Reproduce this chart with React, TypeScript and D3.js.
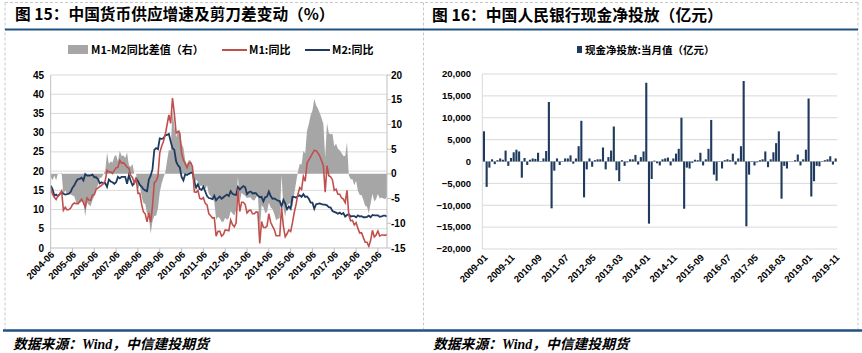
import * as d3 from 'd3';
import React from 'react';

// M1 / M2 同比 (%), monthly 2004-06 .. 2019-11
const m1 = [
  15.6, 14.0, 13.2, 12.6, 13.6, 14.0, 14.8,
  9.8, 10.6, 9.9, 10.0, 10.4, 11.3, 11.7, 11.5, 11.6, 12.1, 12.7, 11.8,
  10.6, 13.0, 12.5, 12.4, 13.8, 13.9, 15.3, 15.6, 16.0, 16.3, 16.8, 17.5,
  20.2, 19.8, 19.8, 19.4, 20.2, 20.9, 21.0, 22.8, 22.1, 22.2, 21.7, 21.0,
  20.7, 18.9, 18.3, 16.9, 18.1, 14.2, 14.2, 11.4, 9.4, 8.9, 6.8, 9.1,
  6.7, 10.9, 17.0, 17.5, 18.7, 24.8, 26.4, 27.7, 29.5, 32.0, 34.6, 32.4,
  39.0, 35.0, 29.9, 30.3, 29.9, 24.6, 22.9, 21.9, 20.9, 22.1, 22.2, 21.2,
  14.6, 14.5, 15.0, 12.9, 12.7, 13.1, 11.6, 11.2, 8.9, 8.4, 7.8, 7.9,
  3.1, 4.3, 4.4, 3.1, 3.5, 4.7, 4.6, 4.5, 7.3, 6.1, 5.5, 6.5,
  15.3, 9.5, 11.9, 11.9, 11.3, 9.1, 9.7, 9.9, 8.9, 8.9, 9.4, 9.3,
  1.2, 6.9, 5.4, 5.3, 5.7, 8.9, 6.7, 5.7, 4.8, 3.2, 3.2, 3.2,
  10.6, 5.6, 2.9, 3.7, 4.7, 4.3, 6.6, 9.3, 11.4, 14.0, 15.7, 15.2,
  18.6, 17.4, 22.1, 22.9, 23.7, 24.6, 25.4, 25.3, 24.7, 23.9, 22.7, 21.4,
  14.5, 21.4, 18.8, 18.5, 17.7, 15.0, 15.3, 14.0, 14.0, 13.0, 12.7, 11.8,
  15.0, 8.5, 7.1, 7.2, 6.0, 6.6, 5.1, 3.9, 4.0, 2.7, 1.5, 1.5,
  0.4, 2.0, 4.6, 2.9, 3.4, 4.4, 3.1, 3.4, 3.4, 3.3, 3.5,
];

const m2 = [
  16.2, 15.3, 13.6, 13.9, 13.5, 14.0, 14.6,
  14.1, 13.9, 14.0, 14.1, 14.6, 15.7, 16.3, 17.3, 17.9, 18.0, 18.3, 17.6,
  19.2, 18.8, 18.8, 18.9, 19.1, 18.4, 18.4, 17.9, 16.8, 17.1, 16.8, 16.9,
  15.9, 17.8, 17.3, 17.1, 16.7, 17.1, 18.5, 18.1, 18.5, 18.5, 18.5, 16.7,
  18.9, 17.5, 16.3, 16.9, 18.1, 17.4, 16.4, 16.0, 15.3, 15.0, 14.8, 17.8,
  18.8, 20.5, 25.5, 26.0, 25.7, 28.5, 28.4, 28.5, 29.3, 29.4, 29.7, 27.7,
  26.0, 25.5, 22.5, 21.5, 21.0, 18.5, 17.6, 19.2, 19.0, 19.3, 19.5, 19.7,
  17.2, 15.7, 16.6, 15.3, 15.1, 15.9, 14.7, 13.5, 13.0, 12.9, 12.7, 13.6,
  12.4, 13.0, 13.4, 12.8, 13.2, 13.6, 13.9, 13.5, 14.8, 14.1, 13.9, 13.8,
  15.9, 15.2, 15.7, 16.1, 15.8, 14.0, 14.5, 14.7, 14.2, 14.3, 14.2, 13.6,
  13.2, 13.3, 12.1, 13.2, 13.4, 14.7, 13.5, 12.8, 12.9, 12.6, 12.3, 12.2,
  10.8, 12.5, 11.6, 10.1, 10.8, 10.2, 13.3, 13.3, 13.1, 13.5, 13.7, 13.3,
  14.0, 13.3, 13.4, 12.8, 11.8, 11.8, 10.2, 11.4, 11.5, 11.6, 11.4, 11.3,
  11.3, 11.1, 10.6, 10.5, 9.6, 9.4, 9.2, 8.9, 9.2, 8.8, 9.1, 8.2,
  8.6, 8.8, 8.2, 8.3, 8.3, 8.0, 8.5, 8.2, 8.3, 8.0, 8.0, 8.1,
  8.4, 8.0, 8.6, 8.5, 8.5, 8.5, 8.1, 8.2, 8.4, 8.4, 8.2,
];

// M1-M2 同比差值（右）
const gap = m1.map((v, i) => v - m2[i]);

const yearLabels = [
  '2004-06', '2005-06', '2006-06', '2007-06', '2008-06', '2009-06', '2010-06', '2011-06',
  '2012-06', '2013-06', '2014-06', '2015-06', '2016-06', '2017-06', '2018-06', '2019-06',
];

// 现金净投放:当月值（亿元）, monthly 2009-01 .. 2019-11
const cash = [
  6900, -5800, -1400, 500, -600, 300, 700, 400, 2500, -1000, 800, 2100,
  2700, 2300, -3700, 800, -800, 400, 700, 600, 2000, -100, 700, 2400,
  13600, -10700, -2100, 700, -800, -100, 700, 700, 1400, -500, 700, 3500,
  9300, -8200, -1800, 700, -1200, 300, 500, 500, 3200, -1800, 1000, 2500,
  8000, -2000, -4500, 300, -1000, -200, 500, 500, 1500, -700, 1000, 2300,
  18000, -14200, -4000, 200, -400, -900, 500, 700, 900, -900, 700, 1800,
  2900, 10000, -10800, -1400, -1600, -300, 400, 300, 2000, -900, 500, 2900,
  9500, -3000, -4400, -100, -1600, 300, 500, 300, 1800, -700, 700, 3500,
  18400, -14800, -3000, -100, -900, -200, 300, 500, 2300, -1300, 500, 2100,
  4200, 6900, -8500, -1000, -1600, -50, 50, 300, 1600, -900, 500, 2700,
  14400, -8000, -4500, -1000, -1100, -100, 300, 500, 1200, -700, 700,
];

const cashLabels = [
  '2009-01', '2009-11', '2010-09', '2011-07', '2012-05', '2013-03', '2014-01',
  '2014-11', '2015-09', '2016-07', '2017-05', '2018-03', '2019-01', '2019-11',
];

const leftTicks = [0, 5, 10, 15, 20, 25, 30, 35, 40, 45];
const rightTicks = [-15, -10, -5, 0, 5, 10, 15, 20];
const cashTicks = [-20000, -15000, -10000, -5000, 0, 5000, 10000, 15000, 20000];

const RED = '#C0504D';
const NAVY = '#1F3A5F';
const GRAY = '#A6A6A6';
const GRID = '#D9D9D9';
const BLUE = '#1F5282';
const axisFont = '"Liberation Sans", Arial, sans-serif';
const cjkFont = '"Noto Sans CJK SC", "Liberation Sans", sans-serif';
const footFont = '"Liberation Serif", "Noto Sans CJK SC", serif';

function LeftChart() {
  const n = m1.length;
  const x = d3.scaleLinear().domain([0, n - 1]).range([50.7, 387]);
  const yL = d3.scaleLinear().domain([0, 45]).range([248, 75]);
  const yR = d3.scaleLinear().domain([-15, 20]).range([248, 75]);

  const area = d3.area<number>()
    .x((d, i) => x(i))
    .y0(yR(0))
    .y1(d => yR(d));
  const line = d3.line<number>()
    .x((d, i) => x(i))
    .y(d => yL(d));

  return (
    <g>
      {leftTicks.slice(1).map(t => (
        <line key={t} x1={x(0)} x2={x(n - 1)} y1={yL(t)} y2={yL(t)} stroke={GRID} strokeWidth={1} />
      ))}
      <path d={area(gap) || ''} fill={GRAY} />
      <path d={line(m2) || ''} fill="none" stroke={NAVY} strokeWidth={1.8} />
      <path d={line(m1) || ''} fill="none" stroke={RED} strokeWidth={1.6} />

      <line x1={x(0)} x2={x(0)} y1={75} y2={248} stroke="#BFBFBF" />
      <line x1={x(n - 1)} x2={x(n - 1)} y1={75} y2={248} stroke="#BFBFBF" />
      <line x1={x(0)} x2={x(n - 1)} y1={248} y2={248} stroke="#BFBFBF" />

      {leftTicks.map(t => (
        <text key={t} x={44} y={yL(t)} dy="0.35em" textAnchor="end"
          fontSize={10} fontWeight="bold" fontFamily={axisFont}>{t}</text>
      ))}
      {rightTicks.map(t => (
        <g key={t}>
          <line x1={x(n - 1)} x2={x(n - 1) + 4} y1={yR(t)} y2={yR(t)} stroke="#BFBFBF" />
          <text x={391} y={yR(t)} dy="0.35em" fontSize={10} fontWeight="bold" fontFamily={axisFont}>{t}</text>
        </g>
      ))}
      {yearLabels.map((lab, k) => {
        const xx = x(k * 12);
        return (
          <g key={lab}>
            <line x1={xx} x2={xx} y1={248} y2={252} stroke="#BFBFBF" />
            <text transform={`translate(${xx + 2},${253}) rotate(-45)`} textAnchor="end" dy="0.35em"
              fontSize={9.5} fontWeight="bold" fontFamily={axisFont}>{lab}</text>
          </g>
        );
      })}

      {/* legend */}
      <rect x={68} y={45} width={20} height={9} fill={GRAY} />
      <text x={91} y={50} dy="0.35em" fontSize={11} fontWeight="bold" fontFamily={cjkFont}>M1-M2同比差值（右）</text>
      <line x1={222} x2={247} y1={50} y2={50} stroke={RED} strokeWidth={2} />
      <text x={249} y={50} dy="0.35em" fontSize={11} fontWeight="bold" fontFamily={cjkFont}>M1:同比</text>
      <line x1={305} x2={330} y1={50} y2={50} stroke={NAVY} strokeWidth={2} />
      <text x={332} y={50} dy="0.35em" fontSize={11} fontWeight="bold" fontFamily={cjkFont}>M2:同比</text>
    </g>
  );
}

function RightChart() {
  const n = cash.length;
  const x = d3.scaleBand<number>().domain(d3.range(n)).range([482.3, 837.3]).padding(0.22);
  const y = d3.scaleLinear().domain([-20000, 20000]).range([249, 74]);
  const fmt = d3.format(',');

  return (
    <g>
      {cashTicks.map(t => (
        <line key={t} x1={482.3} x2={837.3} y1={y(t)} y2={y(t)} stroke={GRID} />
      ))}
      <line x1={482.3} x2={482.3} y1={74} y2={249} stroke={GRID} />
      {cash.map((v, i) => (
        <rect key={i} x={x(i)} width={x.bandwidth()} y={y(Math.max(0, v))}
          height={Math.abs(y(v) - y(0))} fill={NAVY} />
      ))}
      {cashTicks.map(t => (
        <text key={t} x={471} y={y(t)} dy="0.35em" textAnchor="end"
          fontSize={9.5} fontWeight="bold" fontFamily={axisFont}>{fmt(t)}</text>
      ))}
      {cashLabels.map((lab, k) => {
        const xx = (x(k * 10) || 0) + x.bandwidth() / 2;
        return (
          <text key={lab} transform={`translate(${xx + 2},${256}) rotate(-45)`} textAnchor="end" dy="0.35em"
            fontSize={9.5} fontWeight="bold" fontFamily={axisFont}>{lab}</text>
        );
      })}

      {/* legend */}
      <rect x={577} y={46} width={5} height={7} fill={NAVY} />
      <text x={585} y={50} dy="0.35em" fontSize={10.5} fontWeight="bold" fontFamily={cjkFont}>现金净投放:当月值（亿元）</text>
    </g>
  );
}

export default function App() {
  return (
    <div style={{ position: 'fixed', left: 0, top: 0 }}>
      <svg width={862} height={353} style={{ display: 'block', background: '#fff' }}>
        {/* frames */}
        <line x1={5} x2={858} y1={2.5} y2={2.5} stroke="#C8C8C8" strokeDasharray="3,2" />
        {[5, 423.5, 858].map(xx => (
          <line key={xx} x1={xx} x2={xx} y1={2.5} y2={329} stroke="#C8C8C8" strokeDasharray="3,2" />
        ))}

        <text x={15} y={15} dy="0.35em" fontSize={15.7} fontWeight="bold" fontFamily={cjkFont}>图 15：中国货币供应增速及剪刀差变动（%）</text>
        <text x={432} y={15} dy="0.35em" fontSize={15.8} fontWeight="bold" fontFamily={cjkFont}>图 16：中国人民银行现金净投放（亿元）</text>
        <line x1={5} x2={858} y1={29.5} y2={29.5} stroke={BLUE} strokeWidth={2} />

        <LeftChart />
        <RightChart />

        <line x1={3} x2={862} y1={330.5} y2={330.5} stroke={BLUE} strokeWidth={2.5} />
        <text x={13} y={344} dy="0.35em" fontSize={13.8} fontWeight="bold" fontStyle="italic"
          fontFamily={footFont}>数据来源：Wind，中信建投期货</text>
        <text x={433} y={344} dy="0.35em" fontSize={13.8} fontWeight="bold" fontStyle="italic"
          fontFamily={footFont}>数据来源：Wind，中信建投期货</text>
      </svg>
    </div>
  );
}
